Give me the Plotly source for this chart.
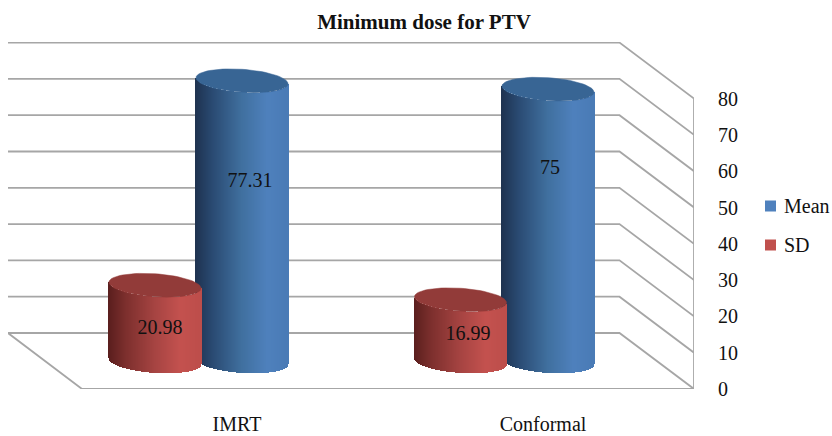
import math

import plotly.graph_objects as go

# ── Data ───────────────────────────────────────────────────────────────────
CATEGORIES = ["IMRT", "Conformal"]
MEAN_VALUES = [77.31, 75]
SD_VALUES = [20.98, 16.99]
TICK_VALUES = [0, 10, 20, 30, 40, 50, 60, 70, 80]

# ── Geometry of the fake 3D box (x axis is 1 unit = 1 px of the page) ──────
FIG_W, FIG_H = 832, 436
PLOT_LEFT, PLOT_RIGHT, PLOT_TOP, PLOT_BOTTOM = 8, 694, 42, 389
PLOT_W, PLOT_H = PLOT_RIGHT - PLOT_LEFT, PLOT_BOTTOM - PLOT_TOP
PX_PER_UNIT = 3.63
DEPTH = 56 / PX_PER_UNIT        # how far the back wall is lifted, in value units
BACK_LEFT, BACK_RIGHT, FRONT_LEFT, FRONT_RIGHT = 8, 619.5, 82, 694
MID = 7.6                       # cylinder axis sits halfway back on the floor

RADIUS = 46
TILT = 3 / PX_PER_UNIT
MINOR = 11.5 / PX_PER_UNIT

MEAN_CENTERS = [242, 548]
SD_CENTERS = [155, 460.5]
CATEGORY_TICKS = [237, 543]
MEAN_LABEL_POS = [(250, 57), (550, 60.6)]
SD_LABEL_POS = [(160, 16.5), (468, 14.9)]

BLUE_STOPS = [(0, "#1f3350"), (0.18, "#2a4a72"), (0.5, "#40709f"), (0.78, "#4f81bd"), (1, "#4a7bb6")]
RED_STOPS = [(0, "#5a1f1e"), (0.18, "#7c2f2d"), (0.5, "#a64442"), (0.78, "#c4524f"), (1, "#bd4e4b")]
BLUE_TOP = "#386594"
RED_TOP = "#923b39"
GRID = "#a6a6a6"
TEXT = "#111111"
SERIF = "Liberation Serif"


def shade(stops, t):
    for (t0, c0), (t1, c1) in zip(stops, stops[1:]):
        if t <= t1:
            f = (t - t0) / (t1 - t0)
            rgb = [int(c0[i:i + 2], 16) * (1 - f) + int(c1[i:i + 2], 16) * f for i in (1, 3, 5)]
            return "rgb(%d,%d,%d)" % tuple(rgb)
    return stops[-1][1]


def cylinder_side(values, centers, stops, name):
    xs, heights, bases, colors = [], [], [], []
    for value, cx in zip(values, centers):
        left = math.ceil(cx - RADIUS)
        for px in range(left, int(cx + RADIUS) + 1):
            u = max(-1, min(1, (px - cx) / RADIUS))
            xs.append(px)
            heights.append(value)
            bases.append(MID - MINOR * math.sqrt(1 - u * u) - TILT * u)
            colors.append(shade(stops, (u + 1) / 2))
    return go.Bar(x=xs, y=heights, base=bases, width=1, name=name, showlegend=False,
                  marker=dict(color=colors, line_width=0), hoverinfo="skip")


def cylinder_top(value, cx, color):
    steps = [2 * math.pi * i / 72 for i in range(73)]
    return go.Scatter(
        x=[cx + RADIUS * math.cos(t) for t in steps],
        y=[MID + value - MINOR * math.sin(t) - TILT * math.cos(t) for t in steps],
        mode="lines", fill="toself", fillcolor=color,
        line=dict(color=color, width=0.5), showlegend=False, hoverinfo="skip",
    )


def value_labels(values, positions):
    return go.Scatter(
        x=[p[0] for p in positions], y=[p[1] for p in positions],
        text=[f"{v:g}" for v in values], mode="text",
        textfont=dict(family=SERIF, size=20, color=TEXT),
        showlegend=False, hoverinfo="skip",
    )


fig = go.Figure()

# Blue goes first, the red cylinders sit in front of it
fig.add_trace(cylinder_side(MEAN_VALUES, MEAN_CENTERS, BLUE_STOPS, "Mean"))
fig.add_trace(cylinder_side(SD_VALUES, SD_CENTERS, RED_STOPS, "SD"))
for v, cx in zip(MEAN_VALUES, MEAN_CENTERS):
    fig.add_trace(cylinder_top(v, cx, BLUE_TOP))
for v, cx in zip(SD_VALUES, SD_CENTERS):
    fig.add_trace(cylinder_top(v, cx, RED_TOP))
fig.add_trace(value_labels(MEAN_VALUES, MEAN_LABEL_POS))
fig.add_trace(value_labels(SD_VALUES, SD_LABEL_POS))

# Back wall, side wall and floor
line = dict(color=GRID, width=1.8)
for v in TICK_VALUES:
    fig.add_shape(type="path", layer="below", line=line,
                  path=f"M {BACK_LEFT} {v + DEPTH} L {BACK_RIGHT} {v + DEPTH} L {FRONT_RIGHT} {v}")
fig.add_shape(type="path", layer="below", line=line,
              path=f"M {BACK_LEFT} {DEPTH} L {FRONT_LEFT} 0 L {FRONT_RIGHT} 0 L {FRONT_RIGHT} {TICK_VALUES[-1]}")

# Legend, placed by hand so the swatches sit tight against the text
for label, color, py in [("Mean", "#4f81bd", 206), ("SD", "#c0504d", 245)]:
    fig.add_shape(type="rect", xref="paper", yref="paper", line_width=0, fillcolor=color,
                  x0=(765 - PLOT_LEFT) / PLOT_W, x1=(776 - PLOT_LEFT) / PLOT_W,
                  y0=(PLOT_BOTTOM - py - 5.5) / PLOT_H, y1=(PLOT_BOTTOM - py + 5.5) / PLOT_H)
    fig.add_annotation(text=label, xref="paper", yref="paper", showarrow=False,
                       x=(782 - PLOT_LEFT) / PLOT_W, y=(PLOT_BOTTOM - py) / PLOT_H,
                       xanchor="left", yanchor="middle",
                       font=dict(family=SERIF, size=20, color=TEXT))

fig.update_layout(
    width=FIG_W, height=FIG_H,
    paper_bgcolor="white", plot_bgcolor="white",
    barmode="overlay", bargap=0,
    showlegend=False,
    margin=dict(l=PLOT_LEFT, r=FIG_W - PLOT_RIGHT, t=PLOT_TOP, b=FIG_H - PLOT_BOTTOM),
    title=dict(text="<b>Minimum dose for PTV</b>", x=424 / FIG_W, xanchor="center",
               y=1 - 22 / FIG_H, yanchor="middle",
               font=dict(family=SERIF, size=21, color=TEXT)),
    xaxis=dict(range=[PLOT_LEFT, PLOT_RIGHT], tickvals=CATEGORY_TICKS, ticktext=CATEGORIES,
               ticks="outside", ticklen=17, tickcolor="rgba(0,0,0,0)", automargin=False,
               showgrid=False, zeroline=False, showline=False,
               tickfont=dict(family=SERIF, size=20, color=TEXT)),
    yaxis=dict(range=[0, PLOT_H / PX_PER_UNIT], side="right", tickvals=TICK_VALUES,
               ticks="outside", ticklen=19, tickcolor="rgba(0,0,0,0)", automargin=False,
               showgrid=False, zeroline=False, showline=False,
               tickfont=dict(family=SERIF, size=20, color=TEXT)),
)

# Drop the default page margin so the figure fills the window
fig.write_html("out.html", config={"displayModeBar": False},
               post_script="document.body.style.margin = '0';")
